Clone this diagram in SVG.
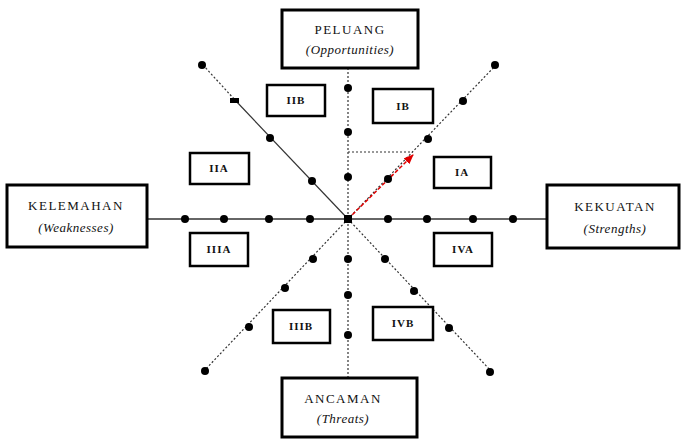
<svg xmlns="http://www.w3.org/2000/svg" width="681" height="440" viewBox="0 0 681 440">
<defs>
<style>
.box{fill:#fff;stroke:#000;stroke-width:3}
.sbox{fill:#fff;stroke:#000;stroke-width:2.5}
.lbl{font-family:"Liberation Serif",serif;font-size:13px;letter-spacing:1.5px;fill:#111;text-anchor:middle}
.it{font-style:italic;letter-spacing:0.5px}
.sl{font-family:"Liberation Serif",serif;font-size:11px;font-weight:bold;letter-spacing:1px;fill:#111;text-anchor:middle}
.solid{stroke:#333;stroke-width:1.5;fill:none}
.dot{stroke:#333;stroke-width:1.2;stroke-dasharray:2 2;fill:none}
.thin{stroke:#333;stroke-width:1.2;fill:none}
.pt{fill:#000}
</style>
<marker id="ah" markerWidth="10" markerHeight="8" refX="9" refY="4" orient="auto" markerUnits="userSpaceOnUse">
<path d="M0,0 L10,4 L0,8 Z" fill="#e00000"/>
</marker>
</defs>
<rect width="681" height="440" fill="#fff"/>
<g id="connectors">
<line class="solid" x1="147" y1="219" x2="547" y2="219"/>
<line class="dot" x1="348" y1="68" x2="348" y2="378"/>
<line class="dot" x1="203" y1="65" x2="235" y2="100"/>
<line class="thin" x1="235" y1="100" x2="348" y2="219"/>
<line class="dot" x1="348" y1="219" x2="492" y2="372"/>
<line class="dot" x1="348" y1="219" x2="497" y2="64"/>
<line class="dot" x1="348" y1="219" x2="203" y2="372"/>
<line class="dot" x1="348" y1="152" x2="413" y2="152"/>
<line x1="348" y1="219" x2="413" y2="155" stroke="#e00000" stroke-width="1.5" stroke-dasharray="4 2" marker-end="url(#ah)"/>
</g>
<g id="points">
<circle class="pt" cx="185" cy="219" r="4"/>
<circle class="pt" cx="224" cy="219" r="4"/>
<circle class="pt" cx="269" cy="219" r="4"/>
<circle class="pt" cx="310" cy="219" r="4"/>
<circle class="pt" cx="388" cy="219" r="4"/>
<circle class="pt" cx="427" cy="219" r="4"/>
<circle class="pt" cx="473" cy="219" r="4"/>
<circle class="pt" cx="513" cy="219" r="4"/>
<rect class="pt" x="344" y="215" width="8" height="8"/>
<circle class="pt" cx="348" cy="88" r="4"/>
<circle class="pt" cx="348" cy="132" r="4"/>
<circle class="pt" cx="348" cy="177" r="4"/>
<circle class="pt" cx="348" cy="259" r="4"/>
<circle class="pt" cx="348" cy="295" r="4"/>
<circle class="pt" cx="348" cy="335" r="4"/>
<circle class="pt" cx="202" cy="65" r="4"/>
<rect class="pt" x="230" y="98" width="9" height="5"/>
<circle class="pt" cx="270" cy="138" r="4"/>
<circle class="pt" cx="312" cy="181" r="4"/>
<circle class="pt" cx="495" cy="65" r="4"/>
<circle class="pt" cx="463" cy="101" r="4"/>
<circle class="pt" cx="428" cy="139" r="4"/>
<circle class="pt" cx="388" cy="179" r="4"/>
<circle class="pt" cx="313" cy="259" r="4"/>
<circle class="pt" cx="285" cy="288" r="4"/>
<circle class="pt" cx="249" cy="327" r="4"/>
<circle class="pt" cx="205" cy="371" r="4"/>
<circle class="pt" cx="385" cy="259" r="4"/>
<circle class="pt" cx="414" cy="291" r="4"/>
<circle class="pt" cx="449" cy="328" r="4"/>
<circle class="pt" cx="490" cy="372" r="4"/>
</g>
<g id="peluang">
<rect class="box" x="282" y="10" width="136" height="58"/>
<text class="lbl" x="350" y="34">PELUANG</text>
<text class="lbl it" x="350" y="54">(Opportunities)</text>
</g>
<g id="kelemahan">
<rect class="box" x="7" y="185" width="140" height="62"/>
<text class="lbl" x="76" y="210">KELEMAHAN</text>
<text class="lbl it" x="76" y="232">(Weaknesses)</text>
</g>
<g id="kekuatan">
<rect class="box" x="547" y="185" width="132" height="63"/>
<text class="lbl" x="615" y="211">KEKUATAN</text>
<text class="lbl it" x="615" y="233">(Strengths)</text>
</g>
<g id="ancaman">
<rect class="box" x="282" y="378" width="135" height="59"/>
<text class="lbl" x="343" y="403">ANCAMAN</text>
<text class="lbl it" x="343" y="423">(Threats)</text>
</g>
<g id="q2b"><rect class="sbox" x="267" y="85" width="58" height="31"/><text class="sl" x="296" y="104">IIB</text></g>
<g id="q2a"><rect class="sbox" x="190" y="153" width="59" height="31"/><text class="sl" x="219" y="172">IIA</text></g>
<g id="q1b"><rect class="sbox" x="373" y="89" width="60" height="34"/><text class="sl" x="403" y="110">IB</text></g>
<g id="q1a"><rect class="sbox" x="434" y="157" width="57" height="31"/><text class="sl" x="462" y="176">IA</text></g>
<g id="q3a"><rect class="sbox" x="190" y="233" width="58" height="33"/><text class="sl" x="219" y="253">IIIA</text></g>
<g id="q3b"><rect class="sbox" x="273" y="310" width="57" height="33"/><text class="sl" x="301" y="330">IIIB</text></g>
<g id="q4a"><rect class="sbox" x="434" y="233" width="58" height="33"/><text class="sl" x="463" y="253">IVA</text></g>
<g id="q4b"><rect class="sbox" x="373" y="307" width="60" height="33"/><text class="sl" x="403" y="327">IVB</text></g>
</svg>
